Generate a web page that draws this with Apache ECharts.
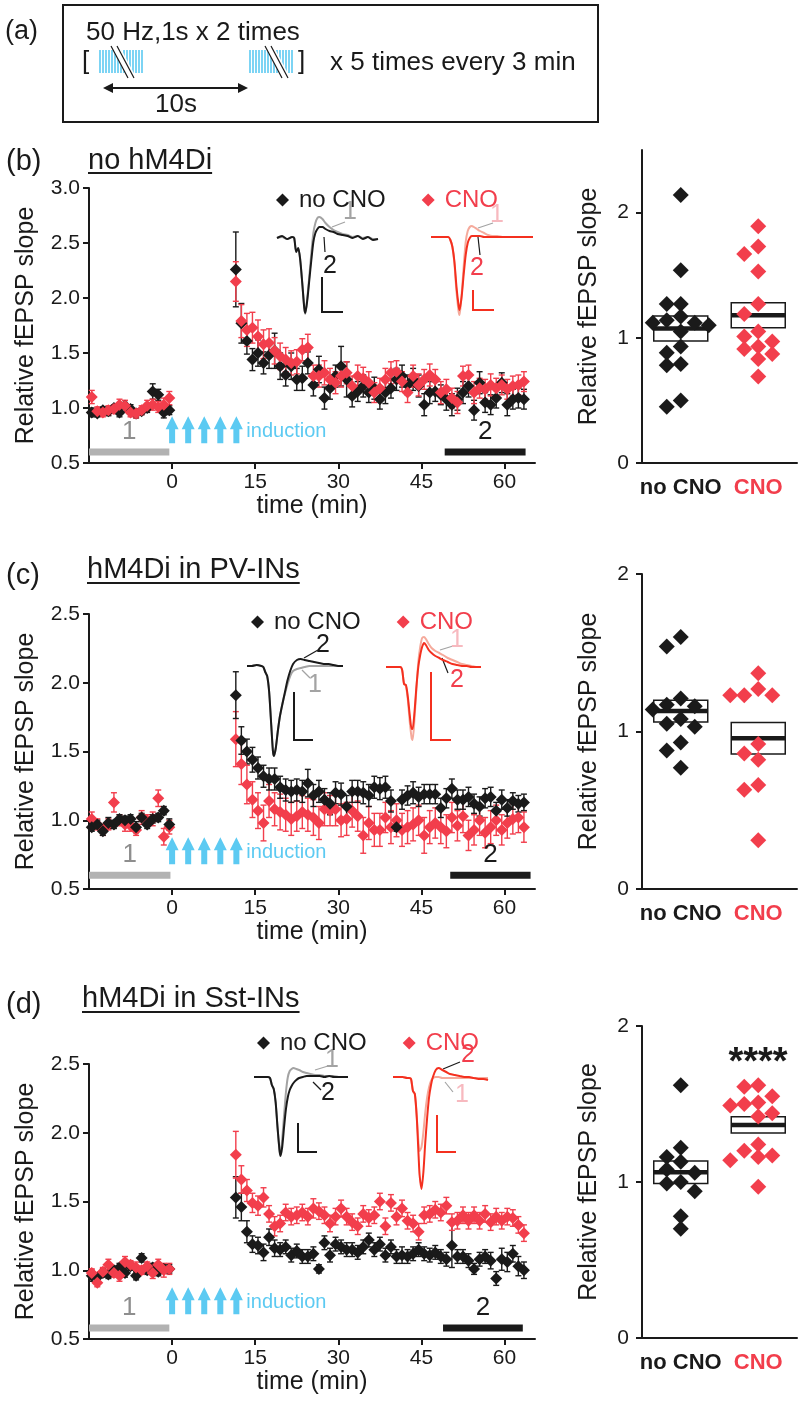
<!DOCTYPE html>
<html>
<head>
<meta charset="utf-8">
<title>fEPSP potentiation with hM4Di</title>
<script src="https://cdn.jsdelivr.net/npm/echarts@6.0.0/dist/echarts.min.js"></script>
<style>
  html, body { margin: 0; padding: 0; background: #fff; }
  #chart { width: 808px; height: 1405px; }
</style>
</head>
<body>
<div id="chart"></div>
<script>
// sweep times (min, relative to first induction train)
const minutes = [
  -14.5, -13.5, -12.5, -11.5, -10.5, -9.5, -8.5, -7.5, -6.5, -5.5, -4.5, -3.5, -2.5, -1.5, -0.5,
  11.5, 12.5, 13.5, 14.5, 15.5, 16.5, 17.5, 18.5, 19.5, 20.5,
  21.5, 22.5, 23.5, 24.5, 25.5, 26.5, 27.5, 28.5, 29.5, 30.5,
  31.5, 32.5, 33.5, 34.5, 35.5, 36.5, 37.5, 38.5, 39.5, 40.5,
  41.5, 42.5, 43.5, 44.5, 45.5, 46.5, 47.5, 48.5, 49.5, 50.5,
  51.5, 52.5, 53.5, 54.5, 55.5, 56.5, 57.5, 58.5, 59.5, 60.5,
  61.5, 62.5, 63.5
]
const timeTicks = [0, 15, 30, 45, 60]
const inductionAt = [0, 2.9, 5.8, 8.7, 11.6]
const periodNames = ['1', '2']
const groups = ['no CNO', 'CNO']
const groupAt = [0.5, 1.5]
const summaryTicks = [0, 1, 2]

// (b) no hM4Di
const bNoCno = [
  0.96, 0.95, 0.98, 0.97, 1.00, 0.96, 1.02, 0.99, 0.95, 0.97, 1.00, 1.15, 1.12, 0.96, 0.98,
  2.26, 1.77, 1.61, 1.44, 1.50, 1.41, 1.48, 1.52, 1.38, 1.30,
  1.38, 1.26, 1.27, 1.41, 1.21, 1.35, 1.09, 1.18, 1.29, 1.38,
  1.26, 1.11, 1.15, 1.20, 1.14, 1.18, 1.08, 1.14, 1.18, 1.26,
  1.29, 1.21, 1.26, 1.20, 1.03, 1.14, 1.15, 1.12, 1.08, 1.03,
  1.08, 1.14, 1.20, 0.98, 1.23, 1.05, 1.03, 1.09, 1.23, 1.03,
  1.08, 1.09, 1.08
]
const bNoCnoSem = [
  0.04, 0.03, 0.03, 0.04, 0.03, 0.04, 0.03, 0.04, 0.04, 0.03, 0.04, 0.07, 0.05, 0.05, 0.04,
  0.34, 0.18, 0.12, 0.10, 0.12, 0.10, 0.12, 0.16, 0.12, 0.10,
  0.12, 0.10, 0.11, 0.10, 0.10, 0.12, 0.10, 0.10, 0.10, 0.18,
  0.16, 0.10, 0.09, 0.10, 0.09, 0.10, 0.09, 0.10, 0.09, 0.10,
  0.10, 0.09, 0.10, 0.10, 0.10, 0.10, 0.09, 0.09, 0.10, 0.10,
  0.10, 0.10, 0.10, 0.09, 0.10, 0.09, 0.09, 0.09, 0.09, 0.10,
  0.09, 0.09, 0.09
]
const bCno = [
  1.10, 0.97, 0.96, 0.98, 0.99, 1.03, 1.02, 0.96, 0.95, 0.98, 1.02, 1.03, 1.01, 1.03, 1.09,
  2.15, 1.79, 1.71, 1.73, 1.65, 1.58, 1.59, 1.52, 1.47, 1.44,
  1.41, 1.42, 1.53, 1.55, 1.29, 1.29, 1.32, 1.26, 1.23, 1.29,
  1.32, 1.20, 1.29, 1.27, 1.23, 1.14, 1.18, 1.26, 1.32, 1.33,
  1.24, 1.14, 1.29, 1.21, 1.26, 1.30, 1.26, 1.14, 1.17, 1.09,
  1.05, 1.29, 1.30, 1.14, 1.18, 1.17, 1.21, 1.18, 1.21, 1.17,
  1.20, 1.21, 1.24
]
const bCnoSem = [
  0.06, 0.04, 0.04, 0.04, 0.04, 0.05, 0.05, 0.04, 0.04, 0.04, 0.05, 0.05, 0.05, 0.06, 0.06,
  0.18, 0.15, 0.15, 0.14, 0.15, 0.13, 0.13, 0.12, 0.12, 0.11,
  0.11, 0.11, 0.10, 0.12, 0.10, 0.10, 0.11, 0.10, 0.10, 0.10,
  0.10, 0.09, 0.10, 0.10, 0.10, 0.09, 0.09, 0.10, 0.10, 0.10,
  0.09, 0.09, 0.10, 0.10, 0.09, 0.10, 0.09, 0.10, 0.09, 0.09,
  0.10, 0.09, 0.09, 0.10, 0.09, 0.09, 0.10, 0.09, 0.09, 0.09,
  0.09, 0.09, 0.09
]
const bNoCnoSlopes = [2.14, 1.54, 1.27, 1.27, 1.17, 1.14, 1.12, 1.12, 1.10, 1.05, 0.93, 0.88, 0.79, 0.78, 0.50, 0.45]
const bCnoSlopes = [1.89, 1.73, 1.67, 1.53, 1.27, 1.19, 1.05, 1.01, 0.97, 0.93, 0.91, 0.87, 0.83, 0.69]
const bMeans = [1.075, 1.18]
const bSems = [0.10, 0.10]
const bPeriods = [[-15, -0.5], [49.2, 63.8]]

// (c) hM4Di in PV-INs
const cNoCno = [
  0.95, 0.97, 0.92, 0.98, 0.97, 1.01, 1.00, 1.01, 0.95, 1.02, 0.97, 1.01, 1.02, 1.07, 0.97,
  1.91, 1.58, 1.50, 1.44, 1.38, 1.32, 1.30, 1.30, 1.24, 1.22,
  1.21, 1.22, 1.21, 1.27, 1.18, 1.21, 1.15, 1.12, 1.20, 1.19,
  1.10, 1.21, 1.21, 1.20, 1.18, 1.24, 1.23, 1.24, 1.14, 0.95,
  1.15, 1.18, 1.20, 1.17, 1.19, 1.19, 1.19, 1.09, 1.16, 1.23,
  1.15, 1.15, 1.17, 1.12, 1.10, 1.16, 1.17, 1.07, 1.15, 1.09,
  1.14, 1.12, 1.13
]
const cNoCnoSem = [
  0.03, 0.03, 0.03, 0.04, 0.03, 0.03, 0.03, 0.03, 0.04, 0.03, 0.03, 0.03, 0.03, 0.03, 0.04,
  0.17, 0.10, 0.09, 0.09, 0.08, 0.08, 0.08, 0.08, 0.08, 0.08,
  0.08, 0.08, 0.08, 0.10, 0.08, 0.08, 0.08, 0.08, 0.08, 0.08,
  0.08, 0.08, 0.08, 0.08, 0.08, 0.08, 0.08, 0.08, 0.08, 0.03,
  0.07, 0.07, 0.08, 0.07, 0.07, 0.07, 0.07, 0.07, 0.07, 0.07,
  0.07, 0.07, 0.07, 0.07, 0.07, 0.07, 0.07, 0.06, 0.07, 0.06,
  0.06, 0.06, 0.06
]
const cCno = [
  1.01, 0.97, 0.93, 0.97, 1.13, 1.00, 0.97, 0.96, 0.93, 1.02, 1.00, 1.01, 1.16, 0.88, 0.95,
  1.59, 1.41, 1.26, 1.15, 1.07, 0.98, 1.14, 1.08, 1.06, 1.04,
  1.01, 1.03, 1.06, 1.04, 1.02, 0.98, 1.08, 1.07, 1.08, 1.00,
  1.01, 1.07, 1.03, 0.89, 0.98, 0.93, 0.93, 1.02, 0.95, 1.00,
  0.93, 0.95, 0.97, 1.00, 0.89, 0.95, 0.98, 0.95, 0.92, 1.02,
  0.96, 1.03, 0.89, 0.93, 1.00, 0.91, 0.95, 1.00, 0.93, 0.98,
  1.01, 1.02, 0.95
]
const cCnoSem = [
  0.05, 0.04, 0.04, 0.04, 0.07, 0.04, 0.05, 0.04, 0.04, 0.05, 0.04, 0.05, 0.06, 0.06, 0.05,
  0.20, 0.15, 0.14, 0.13, 0.13, 0.13, 0.12, 0.12, 0.13, 0.12,
  0.12, 0.11, 0.12, 0.12, 0.13, 0.12, 0.12, 0.11, 0.12, 0.12,
  0.12, 0.12, 0.11, 0.13, 0.12, 0.12, 0.12, 0.11, 0.12, 0.12,
  0.12, 0.12, 0.12, 0.11, 0.13, 0.12, 0.11, 0.12, 0.12, 0.11,
  0.11, 0.12, 0.11, 0.11, 0.11, 0.11, 0.12, 0.11, 0.11, 0.11,
  0.11, 0.11, 0.11
]
const cNoCnoSlopes = [1.60, 1.54, 1.21, 1.16, 1.14, 1.17, 1.08, 1.05, 1.03, 0.93, 0.88, 0.77]
const cCnoSlopes = [1.37, 1.27, 1.23, 1.23, 1.23, 0.92, 0.86, 0.82, 0.66, 0.63, 0.31]
const cMeans = [1.13, 0.957]
const cSems = [0.069, 0.10]
const cPeriods = [[-15, -0.3], [50.2, 64.7]]

// (d) hM4Di in Sst-INs
const dNoCno = [
  0.96, 0.95, 0.98, 0.97, 1.00, 1.02, 0.98, 1.03, 0.96, 1.09, 1.00, 1.02, 0.99, 1.01, 1.01,
  1.53, 1.46, 1.28, 1.19, 1.18, 1.13, 1.24, 1.16, 1.15, 1.17,
  1.11, 1.14, 1.10, 1.10, 1.12, 1.01, 1.20, 1.11, 1.19, 1.17,
  1.15, 1.15, 1.13, 1.17, 1.22, 1.15, 1.19, 1.11, 1.17, 1.10,
  1.11, 1.10, 1.12, 1.15, 1.12, 1.11, 1.13, 1.10, 1.08, 1.18,
  1.10, 1.10, 1.07, 1.01, 1.08, 1.10, 1.07, 0.94, 1.08, 1.06,
  1.12, 1.03, 1.00
]
const dNoCnoSem = [
  0.04, 0.03, 0.03, 0.03, 0.03, 0.03, 0.03, 0.03, 0.03, 0.03, 0.03, 0.03, 0.03, 0.03, 0.03,
  0.15, 0.10, 0.08, 0.06, 0.06, 0.06, 0.06, 0.06, 0.05, 0.05,
  0.05, 0.05, 0.05, 0.05, 0.05, 0.03, 0.05, 0.05, 0.05, 0.05,
  0.05, 0.05, 0.05, 0.05, 0.05, 0.05, 0.05, 0.05, 0.05, 0.05,
  0.06, 0.05, 0.05, 0.05, 0.05, 0.05, 0.05, 0.05, 0.05, 0.16,
  0.05, 0.05, 0.05, 0.04, 0.05, 0.05, 0.06, 0.05, 0.08, 0.07,
  0.06, 0.07, 0.06
]
const dCno = [
  0.98, 0.91, 0.99, 1.04, 0.98, 0.96, 1.06, 1.04, 1.02, 1.00, 1.03, 0.98, 1.04, 1.00, 1.01,
  1.84, 1.66, 1.58, 1.49, 1.47, 1.53, 1.41, 1.32, 1.34, 1.42,
  1.39, 1.40, 1.42, 1.39, 1.45, 1.43, 1.40, 1.34, 1.39, 1.45,
  1.39, 1.35, 1.32, 1.41, 1.38, 1.40, 1.50, 1.32, 1.49, 1.39,
  1.45, 1.36, 1.34, 1.28, 1.40, 1.41, 1.44, 1.42, 1.47, 1.35,
  1.36, 1.40, 1.36, 1.40, 1.36, 1.41, 1.35, 1.39, 1.36, 1.39,
  1.38, 1.33, 1.27
]
const dCnoSem = [
  0.03, 0.03, 0.03, 0.04, 0.03, 0.04, 0.04, 0.03, 0.04, 0.03, 0.03, 0.04, 0.04, 0.05, 0.04,
  0.17, 0.10, 0.08, 0.07, 0.07, 0.07, 0.06, 0.07, 0.06, 0.06,
  0.06, 0.06, 0.06, 0.06, 0.07, 0.06, 0.06, 0.06, 0.06, 0.06,
  0.06, 0.06, 0.06, 0.06, 0.06, 0.06, 0.06, 0.06, 0.06, 0.06,
  0.06, 0.06, 0.06, 0.06, 0.06, 0.06, 0.06, 0.06, 0.06, 0.06,
  0.06, 0.06, 0.06, 0.06, 0.06, 0.06, 0.06, 0.06, 0.06, 0.06,
  0.06, 0.06, 0.06
]
const dNoCnoSlopes = [1.62, 1.22, 1.16, 1.13, 1.08, 1.06, 1.00, 0.99, 0.94, 0.78, 0.70]
const dCnoSlopes = [1.62, 1.61, 1.55, 1.51, 1.50, 1.49, 1.44, 1.42, 1.24, 1.20, 1.17, 1.16, 1.14, 0.97]
const dMeans = [1.063, 1.366]
const dSems = [0.072, 0.052]
const dPeriods = [[-15, -0.5], [48.9, 63.3]]

// example fEPSP traces (arbitrary units), 1 = baseline, 2 = after induction
const traceMs = [0, 5, 10, 15, 17, 19, 21, 23, 25, 27, 28, 30, 32, 34, 36, 38, 40, 42, 45, 48, 52, 56, 60, 65, 70, 75, 80, 85, 90, 95, 100]
const bTraceNoCno1 = [0, 1, -1, 1, 0, -13, -10, -22, -45, -70, -76, -60, -38, -15, 5, 15, 20, 21, 19, 15, 11, 8, 6, 4, 3, 1, 2, 0, 1, -1, -1]
const bTraceNoCno2 = [0, 2, -1, 1, 0, -14, -10, -22, -45, -70, -75, -62, -42, -22, -4, 5, 9, 11, 11, 9, 7, 6, 4, 3, 2, 0, 2, -1, 1, -2, -1]
const bTraceCno1 = [0, 0, 0, 0, 0, -3, -10, -27, -55, -74, -78, -58, -30, -5, 6, 10, 11, 10, 8, 6, 4, 2, 1, 1, 0, 0, 0, 0, 0, 0, 0]
const bTraceCno2 = [0, 0, 0, 0, 0, -3, -10, -25, -50, -68, -73, -60, -38, -18, -6, -1, 1, 1, 1, 1, 0, 0, 0, 0, 0, 0, 0, 0, 0, 0, 0]
const cTraceNoCno1 = [0, 0, 1, 0, -1, -6, -10, -25, -55, -85, -90, -82, -66, -52, -42, -33, -26, -19, -10, -5, -3, -2, -1, 0, 0, 0, 0, 0, 0, 0, 0]
const cTraceNoCno2 = [0, 0, 1, 0, -1, -6, -10, -25, -55, -85, -90, -82, -66, -52, -42, -33, -24, -15, -5, 2, 6, 7, 6, 5, 4, 3, 2, 2, 1, 0, 0]
const cTraceCno1 = [0, 0, 0, 0, -3, -17, -19, -33, -55, -71, -73, -52, -22, 5, 20, 29, 30, 28, 23, 19, 16, 14, 12, 9, 7, 5, 3, 2, 1, 0, 0]
const cTraceCno2 = [0, 0, 0, 0, -3, -17, -18, -30, -48, -62, -62, -45, -20, 0, 12, 20, 24, 22, 17, 14, 11, 9, 7, 5, 3, 2, 1, 1, 0, 0, 0]
const dTraceNoCno1 = [0, 0, 0, 0, -1, -8, -12, -25, -50, -72, -77, -62, -38, -15, 0, 6, 8, 9, 8, 7, 5, 4, 3, 2, 2, 1, 1, 1, 0, 0, 0]
const dTraceNoCno2 = [0, 0, 0, 0, -1, -8, -12, -25, -50, -72, -79, -70, -50, -32, -20, -13, -9, -6, -3, -1, 0, 1, 1, 1, 1, 0, 1, 0, 0, 0, 0]
const dTraceCno1 = [0, 0, 0, -1, -1, -2, -14, -17, -40, -68, -74, -70, -55, -35, -20, -10, -4, -1, 0, 0, -1, -1, -1, -1, -1, -1, -1, -1, -1, -1, -1]
const dTraceCno2 = [0, 0, 0, -1, -1, -2, -14, -17, -40, -80, -98, -112, -95, -65, -40, -20, -8, 0, 7, 9, 7, 5, 3, 2, 1, 0, 0, -1, -2, -2, -3]

const FONT = 'Liberation Sans'
const INK = '#1a1a1a'
const RED = '#f23e4c'
const CYAN = '#5ccaf2'
const GREY_BAR = '#b2b2b2'
const GREY_TEXT = '#8e8e8e'
const TRACE_GREY = '#a3a3a3'
const TRACE_RED = '#f4301f'
const TRACE_PINK = '#f5aa9c'
const PINK_TEXT = '#f7b9bf'

const panels = [
  {
    top: 188, yMax: 3.0, rTop: 150, rHeight: 313, rMax: 2.5, redOnTop: true,
    noCno: bNoCno, noCnoSem: bNoCnoSem, cno: bCno, cnoSem: bCnoSem, periods: bPeriods, barAt: 0.6,
    slopes: [bNoCnoSlopes, bCnoSlopes], means: bMeans, sems: bSems,
    legend: { left: 271, top: 182 },
    insets: [
      { left: 277, top: 203, width: 101, traces: [[bTraceNoCno1, TRACE_GREY], [bTraceNoCno2, INK]] },
      { left: 431, top: 202, width: 102, traces: [[bTraceCno1, TRACE_PINK], [bTraceCno2, TRACE_RED]] }
    ]
  },
  {
    top: 614, yMax: 2.5, rTop: 574, rHeight: 315, rMax: 2, redOnTop: false,
    noCno: cNoCno, noCnoSem: cNoCnoSem, cno: cCno, cnoSem: cCnoSem, periods: cPeriods, barAt: 0.6,
    slopes: [cNoCnoSlopes, cCnoSlopes], means: cMeans, sems: cSems,
    legend: { left: 246, top: 604 },
    insets: [
      { left: 247, top: 631, width: 96, traces: [[cTraceNoCno1, TRACE_GREY], [cTraceNoCno2, INK]] },
      { left: 386, top: 632, width: 95, traces: [[cTraceCno1, TRACE_PINK], [cTraceCno2, TRACE_RED]] }
    ]
  },
  {
    top: 1064, yMax: 2.5, rTop: 1026, rHeight: 312, rMax: 2, redOnTop: true,
    noCno: dNoCno, noCnoSem: dNoCnoSem, cno: dCno, cnoSem: dCnoSem, periods: dPeriods, barAt: 0.58,
    slopes: [dNoCnoSlopes, dCnoSlopes], means: dMeans, sems: dSems,
    legend: { left: 252, top: 1025 },
    insets: [
      { left: 254, top: 1042, width: 94, traces: [[dTraceNoCno1, TRACE_GREY], [dTraceNoCno2, INK]] },
      { left: 393, top: 1042, width: 95, traces: [[dTraceCno1, TRACE_PINK], [dTraceCno2, TRACE_RED]] }
    ]
  }
]

const axisLine = { show: true, onZero: false, lineStyle: { color: INK, width: 2 } }
const tickStyle = { color: INK, width: 2 }

function timeAxis (gi) {
  return {
    type: 'value', gridIndex: gi, min: -15, max: 65.5,
    name: 'time (min)', nameLocation: 'middle', nameGap: 31,
    nameTextStyle: { fontSize: 25, color: INK, fontFamily: FONT },
    axisLine,
    axisTick: { show: true, length: 6, lineStyle: tickStyle, customValues: timeTicks },
    axisLabel: { customValues: timeTicks, fontSize: 21, color: INK, fontFamily: FONT, margin: 9 },
    splitLine: { show: false }
  }
}

function slopeAxis (gi, max) {
  return {
    type: 'value', gridIndex: gi, min: 0.5, max, interval: 0.5,
    name: 'Relative fEPSP slope', nameLocation: 'middle', nameRotate: 90, nameGap: 50,
    nameTextStyle: { fontSize: 25, color: INK, fontFamily: FONT },
    axisLine,
    axisTick: { show: true, length: 6, lineStyle: tickStyle },
    axisLabel: { fontSize: 21, color: INK, fontFamily: FONT, margin: 9, formatter: v => v.toFixed(1) },
    splitLine: { show: false }
  }
}

function groupAxis (gi) {
  return {
    type: 'value', gridIndex: gi, min: 0, max: 2,
    axisLine,
    axisTick: { show: false },
    axisLabel: {
      customValues: groupAt, margin: 14,
      formatter: v => (v < 1 ? '{a|' + groups[0] + '}' : '{b|' + groups[1] + '}'),
      rich: {
        a: { fontSize: 22, fontWeight: 'bold', color: INK, fontFamily: FONT },
        b: { fontSize: 22, fontWeight: 'bold', color: RED, fontFamily: FONT }
      }
    },
    splitLine: { show: false }
  }
}

function summaryAxis (gi, max) {
  return {
    type: 'value', gridIndex: gi, min: 0, max, interval: 1,
    name: 'Relative fEPSP slope', nameLocation: 'middle', nameRotate: 90, nameGap: 40,
    nameTextStyle: { fontSize: 25, color: INK, fontFamily: FONT },
    axisLine,
    axisTick: { show: true, length: 6, lineStyle: tickStyle, customValues: summaryTicks },
    axisLabel: { customValues: summaryTicks, fontSize: 21, color: INK, fontFamily: FONT, margin: 13 },
    splitLine: { show: false }
  }
}

function errorBars (gi, ys, es, color) {
  return {
    type: 'custom', xAxisIndex: gi, yAxisIndex: gi, silent: true,
    data: minutes.map((t, i) => [t, ys[i], es[i]]),
    encode: { x: 0, y: 1 },
    renderItem (params, api) {
      const t = api.value(0), m = api.value(1), e = api.value(2)
      const hi = api.coord([t, m + e]), lo = api.coord([t, m - e])
      const st = { stroke: color, lineWidth: 1.4 }
      return {
        type: 'group',
        children: [
          { type: 'line', shape: { x1: hi[0], y1: hi[1], x2: lo[0], y2: lo[1] }, style: st },
          { type: 'line', shape: { x1: hi[0] - 3, y1: hi[1], x2: hi[0] + 3, y2: hi[1] }, style: st },
          { type: 'line', shape: { x1: lo[0] - 3, y1: lo[1], x2: lo[0] + 3, y2: lo[1] }, style: st }
        ]
      }
    }
  }
}

function dots (gi, name, data, color, size) {
  return {
    type: 'scatter', name, xAxisIndex: gi, yAxisIndex: gi, data, clip: false, silent: true,
    symbol: 'diamond', symbolSize: size, itemStyle: { color, opacity: 1 }
  }
}

function periodBars (gi, windows, level) {
  const looks = [{ bar: GREY_BAR, text: GREY_TEXT }, { bar: INK, text: INK }]
  return {
    type: 'custom', xAxisIndex: gi, yAxisIndex: gi, silent: true,
    data: windows.map(w => [w[0], w[1], level]),
    renderItem (params, api) {
      const a = api.coord([api.value(0), api.value(2)])
      const b = api.coord([api.value(1), api.value(2)])
      const look = looks[params.dataIndex]
      return {
        type: 'group',
        children: [
          { type: 'rect', shape: { x: a[0], y: a[1] - 3.5, width: b[0] - a[0], height: 7 }, style: { fill: look.bar } },
          {
            type: 'text', x: (a[0] + b[0]) / 2, y: a[1] - 20,
            style: { text: periodNames[params.dataIndex], fill: look.text, fontSize: 26, fontFamily: FONT, align: 'center', verticalAlign: 'middle' }
          }
        ]
      }
    }
  }
}

function inductionArrows (gi) {
  return {
    type: 'custom', xAxisIndex: gi, yAxisIndex: gi, silent: true,
    data: inductionAt.map(t => [t, 0.68]),
    renderItem (params, api) {
      const [x, y] = api.coord([api.value(0), api.value(1)])
      const h = 27, hw = 6.5, sw = 3, hh = 13
      const children = [{
        type: 'polygon',
        shape: { points: [[x - sw, y], [x - sw, y - h + hh], [x - hw, y - h + hh], [x, y - h], [x + hw, y - h + hh], [x + sw, y - h + hh], [x + sw, y]] },
        style: { fill: CYAN }
      }]
      if (params.dataIndex === inductionAt.length - 1) {
        children.push({ type: 'text', x: x + 10, y: y - 12, style: { text: 'induction', fill: CYAN, fontSize: 20, fontFamily: FONT, verticalAlign: 'middle' } })
      }
      return { type: 'group', children }
    }
  }
}

function swarm (values, center, pxX, pxY) {
  const slots = [0, -1, 1, -0.5, 0.5, -1.5, 1.5, -2, 2]
  const placed = []
  const out = []
  values.map((v, i) => i).sort((a, b) => values[b] - values[a]).forEach(i => {
    const v = values[i]
    let s = slots.find(c => placed.every(p => Math.hypot((p.s - c) * 14, (p.v - v) * pxY) >= 12))
    if (s === undefined) s = 0
    placed.push({ s, v })
    out[i] = [center + s * 14 / pxX, v]
  })
  return out
}

function boxes (gi, means, sems) {
  return {
    type: 'custom', xAxisIndex: gi, yAxisIndex: gi, silent: true,
    data: groupAt.map((x, i) => [x, means[i], sems[i]]),
    renderItem (params, api) {
      const x = api.value(0), m = api.value(1), s = api.value(2)
      const top = api.coord([x, m + s]), bot = api.coord([x, m - s])
      return { type: 'rect', shape: { x: top[0] - 27, y: top[1], width: 54, height: bot[1] - top[1] }, style: { fill: '#fff', stroke: INK, lineWidth: 1.5 } }
    }
  }
}

function meanBars (gi, means) {
  return {
    type: 'custom', xAxisIndex: gi, yAxisIndex: gi, silent: true,
    data: groupAt.map((x, i) => [x, means[i]]),
    renderItem (params, api) {
      const c = api.coord([api.value(0), api.value(1)])
      return { type: 'line', shape: { x1: c[0] - 27, y1: c[1], x2: c[0] + 27, y2: c[1] }, style: { stroke: INK, lineWidth: 4.5 } }
    }
  }
}

const grids = [], xAxes = [], yAxes = [], series = [], legends = []

panels.forEach(p => {
  const gl = grids.length
  grids.push({ left: 89, top: p.top, width: 446, height: 275, outerBoundsMode: 'none' })
  xAxes.push(timeAxis(gl))
  yAxes.push(slopeAxis(gl, p.yMax))

  const black = [errorBars(gl, p.noCno, p.noCnoSem, INK), dots(gl, groups[0], minutes.map((t, i) => [t, p.noCno[i]]), INK, 12)]
  const red = [errorBars(gl, p.cno, p.cnoSem, RED), dots(gl, groups[1], minutes.map((t, i) => [t, p.cno[i]]), RED, 12)]
  series.push(...(p.redOnTop ? black.concat(red) : red.concat(black)))
  series.push(periodBars(gl, p.periods, p.barAt), inductionArrows(gl))

  const gr = grids.length
  grids.push({ left: 642, top: p.rTop, width: 155, height: p.rHeight, outerBoundsMode: 'none' })
  xAxes.push(groupAxis(gr))
  yAxes.push(summaryAxis(gr, p.rMax))
  const pxX = 155 / 2, pxY = p.rHeight / p.rMax
  series.push(
    boxes(gr, p.means, p.sems),
    dots(gr, groups[0], swarm(p.slopes[0], groupAt[0], pxX, pxY), INK, 16),
    dots(gr, groups[1], swarm(p.slopes[1], groupAt[1], pxX, pxY), RED, 16),
    meanBars(gr, p.means)
  )

  p.insets.forEach(ins => {
    const gi = grids.length
    grids.push({ left: ins.left, top: ins.top, width: ins.width, height: 150, outerBoundsMode: 'none' })
    xAxes.push({ type: 'value', gridIndex: gi, min: 0, max: 100, show: false })
    yAxes.push({ type: 'value', gridIndex: gi, min: -115, max: 35, show: false })
    ins.traces.forEach(([ys, color]) => {
      series.push({
        type: 'line', xAxisIndex: gi, yAxisIndex: gi, silent: true, showSymbol: false, smooth: 0.25,
        data: traceMs.map((t, i) => [t, ys[i]]),
        lineStyle: { color, width: 2 }
      })
    })
  })

  legends.push({
    left: p.legend.left, top: p.legend.top, icon: 'diamond', itemWidth: 13, itemHeight: 13, itemGap: 36,
    selectedMode: false,
    textStyle: { fontSize: 24, fontFamily: FONT, lineHeight: 26, padding: [0, 0, 0, 5] },
    data: [{ name: groups[0], textStyle: { color: INK } }, { name: groups[1], textStyle: { color: RED } }]
  })
})

// ---- annotations ----
const measure = document.createElement('canvas').getContext('2d')
function textWidth (text, size) {
  measure.font = size + 'px "' + FONT + '"'
  return measure.measureText(text).width
}
function txt (x, y, text, size, fill, extra) {
  return { type: 'text', x, y, silent: true, style: Object.assign({ text, fill, fontSize: size, fontFamily: FONT, align: 'left', verticalAlign: 'middle' }, extra || {}) }
}
function seg (points, stroke, lineWidth) {
  return { type: 'polyline', silent: true, shape: { points }, style: { stroke, lineWidth, fill: null } }
}

const graphic = []

// (a) stimulation protocol
graphic.push({ type: 'rect', silent: true, shape: { x: 63, y: 5, width: 535, height: 117 }, style: { fill: null, stroke: INK, lineWidth: 2 } })
graphic.push(txt(5, 32, '(a)', 27, INK))
graphic.push(txt(86, 33, '50 Hz,1s x 2 times', 26, INK))
graphic.push(txt(82, 62, '[', 26, INK))
graphic.push(txt(298, 62, ']', 26, INK))
graphic.push(txt(330, 63, 'x 5 times every 3 min', 26, INK))
;[100, 250].forEach(x0 => {
  for (let k = 0; k < 15; k++) graphic.push(seg([[x0 + k * 3, 50], [x0 + k * 3, 73]], CYAN, 1.6))
  const s = x0 === 100 ? 111 : 265
  graphic.push({ type: 'polygon', silent: true, shape: { points: [[s - 1, 45], [s + 8, 45], [s + 26, 79], [s + 17, 79]] }, style: { fill: '#fff' } })
  graphic.push(seg([[s, 46], [s + 17, 78]], INK, 1.2))
  graphic.push(seg([[s + 6, 46], [s + 23, 78]], INK, 1.2))
})
graphic.push(seg([[108, 88], [243, 88]], INK, 2))
graphic.push({ type: 'polygon', silent: true, shape: { points: [[103, 88], [113, 83], [113, 93]] }, style: { fill: INK } })
graphic.push({ type: 'polygon', silent: true, shape: { points: [[248, 88], [238, 83], [238, 93]] }, style: { fill: INK } })
graphic.push(txt(176, 105, '10s', 26, INK, { align: 'center' }))

// panel titles
;[
  { letter: '(b)', ly: 162, title: 'no hM4Di', tx: 88, ty: 161, uy: 173 },
  { letter: '(c)', ly: 576, title: 'hM4Di in PV-INs', tx: 87, ty: 570, uy: 583 },
  { letter: '(d)', ly: 1005, title: 'hM4Di in Sst-INs', tx: 82, ty: 999, uy: 1012 }
].forEach(t => {
  graphic.push(txt(6, t.ly, t.letter, 29, INK))
  graphic.push(txt(t.tx, t.ty, t.title, 29, INK))
  graphic.push(seg([[t.tx, t.uy], [t.tx + textWidth(t.title, 29), t.uy]], INK, 2))
})

// trace labels, leader lines and scale bars
const traceNotes = [
  ['1', TRACE_GREY, 350, 212, [[332, 227], [345, 222]], TRACE_GREY],
  ['2', INK, 330, 266, [[324, 237], [325, 252]], INK],
  ['1', PINK_TEXT, 497, 215, [[478, 228], [493, 223]], TRACE_GREY],
  ['2', RED, 477, 268, [[478, 237], [480, 255]], INK],
  ['2', INK, 323, 645, [[304, 658], [318, 650]], INK],
  ['1', TRACE_GREY, 315, 685, [[302, 670], [310, 678]], TRACE_GREY],
  ['1', PINK_TEXT, 457, 640, [[440, 650], [453, 646]], TRACE_GREY],
  ['2', RED, 457, 680, [[442, 658], [448, 673]], INK],
  ['1', TRACE_GREY, 332, 1060, [[315, 1070], [328, 1066]], TRACE_GREY],
  ['2', INK, 328, 1093, [[313, 1082], [321, 1090]], INK],
  ['2', RED, 468, 1055, [[443, 1069], [460, 1062]], INK],
  ['1', PINK_TEXT, 462, 1095, [[445, 1082], [453, 1092]], TRACE_GREY]
]
traceNotes.forEach(([label, color, x, y, leader, leaderColor]) => {
  graphic.push(seg(leader, leaderColor, 1.2))
  graphic.push(txt(x, y, label, 25, color, { align: 'center' }))
})
;[
  [[[322, 277], [322, 312], [343, 312]], INK],
  [[[473, 290], [473, 310], [494, 310]], TRACE_RED],
  [[[294, 692], [294, 740], [313, 740]], INK],
  [[[431, 672], [431, 740], [451, 740]], TRACE_RED],
  [[[298, 1123], [298, 1152], [317, 1152]], INK],
  [[[437, 1115], [437, 1152], [456, 1152]], TRACE_RED]
].forEach(([pts, color]) => graphic.push(seg(pts, color, 2)))

graphic.push(txt(758, 1064, '****', 38, INK, { align: 'center', fontWeight: 'bold' }))

const chart = echarts.init(document.getElementById('chart'))
chart.setOption({
  animation: false,
  backgroundColor: '#fff',
  textStyle: { fontFamily: FONT },
  grid: grids,
  xAxis: xAxes,
  yAxis: yAxes,
  legend: legends,
  series,
  graphic
})
</script>
</body>
</html>
